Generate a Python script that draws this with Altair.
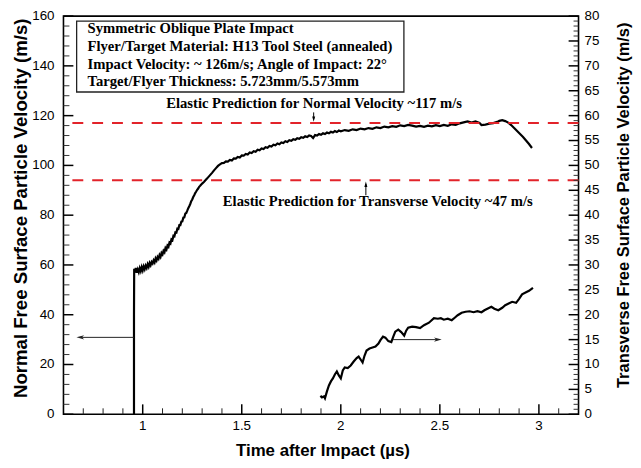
import altair as alt
import pandas as pd

# ---------------- data ----------------
normal_time = [0.956, 0.956, 0.957, 0.960, 0.965, 0.970, 0.975, 0.980, 0.985, 0.990, 0.995,
               1.000, 1.005, 1.010, 1.015, 1.020, 1.025, 1.030, 1.035, 1.040, 1.045,
               1.050, 1.055, 1.060, 1.065, 1.070, 1.075, 1.080, 1.085, 1.090, 1.095,
               1.100, 1.105, 1.110, 1.115, 1.120, 1.125, 1.130, 1.135, 1.140, 1.145,
               1.150, 1.155, 1.160, 1.165, 1.170, 1.175, 1.180, 1.185, 1.190, 1.195,
               1.200, 1.205, 1.210, 1.215, 1.220, 1.225, 1.230, 1.235, 1.240, 1.245,
               1.250, 1.255, 1.260, 1.265, 1.270, 1.275, 1.280, 1.285, 1.290, 1.300,
               1.310, 1.320, 1.330, 1.340, 1.350, 1.360, 1.370, 1.380, 1.390, 1.400,
               1.410, 1.420, 1.430, 1.440, 1.450, 1.460, 1.470, 1.480, 1.490, 1.500,
               1.510, 1.520, 1.530, 1.540, 1.550, 1.560, 1.570, 1.580, 1.590, 1.600,
               1.610, 1.620, 1.630, 1.640, 1.650, 1.660, 1.670, 1.680, 1.690, 1.700,
               1.710, 1.720, 1.730, 1.740, 1.750, 1.760, 1.770, 1.780, 1.790, 1.800,
               1.810, 1.820, 1.830, 1.840, 1.850, 1.860, 1.870, 1.880, 1.890, 1.900,
               1.910, 1.920, 1.930, 1.940, 1.950, 1.960, 1.970, 1.980, 1.990, 2.000,
               2.020, 2.040, 2.060, 2.080, 2.100, 2.120, 2.140, 2.160, 2.180, 2.200,
               2.220, 2.240, 2.260, 2.280, 2.300, 2.320, 2.340, 2.360, 2.380, 2.400,
               2.420, 2.440, 2.460, 2.480, 2.500, 2.520, 2.540, 2.560, 2.580, 2.600,
               2.620, 2.640, 2.660, 2.680, 2.700, 2.710, 2.730, 2.750, 2.770, 2.790,
               2.800, 2.815, 2.830, 2.845, 2.860, 2.875, 2.890, 2.905, 2.920, 2.935,
               2.950, 2.965]
normal_vel = [0.0, 40.0, 58.5, 57.0, 58.8, 56.9, 58.2, 57.1, 58.7, 57.5, 59.1,
              57.8, 59.4, 58.3, 59.7, 58.8, 60.3, 59.3, 60.8, 59.9, 61.2,
              60.6, 61.8, 61.0, 62.6, 61.8, 63.2, 62.5, 64.0, 63.2, 64.8,
              64.2, 65.7, 65.1, 66.8, 66.2, 67.8, 67.3, 69.0, 68.6, 70.3,
              70.0, 71.7, 71.5, 73.1, 73.0, 74.6, 74.5, 76.0, 76.0, 77.4,
              77.5, 79.0, 79.1, 80.6, 80.9, 81.8, 82.8, 83.6, 84.5, 85.6,
              86.3, 87.3, 88.0, 88.9, 89.5, 90.2, 90.7, 91.4, 91.8, 92.7,
              93.4, 94.3, 95.2, 96.1, 97.0, 98.0, 98.9, 99.8, 100.4, 100.9,
              101.0, 101.6, 101.5, 102.2, 102.0, 102.8, 102.7, 103.4, 103.2, 104.0,
              103.9, 104.6, 104.4, 105.2, 105.0, 105.7, 105.5, 106.3, 106.1, 106.8,
              106.6, 107.3, 107.1, 107.8, 107.6, 108.3, 108.1, 108.8, 108.5, 109.2,
              109.0, 109.7, 109.4, 110.1, 109.9, 110.5, 110.3, 110.9, 110.7, 111.3,
              111.1, 111.7, 111.4, 112.0, 111.8, 111.0, 112.2, 112.0, 112.6, 112.3,
              112.9, 112.6, 113.2, 112.9, 113.5, 113.2, 113.8, 113.4, 114.0, 113.7,
              114.2, 113.9, 114.5, 114.2, 114.8, 114.5, 115.0, 114.7, 115.3, 115.0,
              115.6, 115.3, 115.8, 115.5, 116.1, 115.8, 116.3, 116.0, 115.6, 115.9,
              115.5, 116.0, 115.7, 116.2, 115.8, 116.3, 115.9, 116.5, 116.3, 116.9,
              117.3, 117.7, 117.2, 117.7, 117.1, 116.2, 116.4, 116.8, 117.0, 117.5,
              117.9, 118.2, 117.8, 117.2, 116.2, 115.0, 113.8, 112.6, 111.4, 110.0,
              108.6, 107.0]

trans_time = [1.897, 1.905, 1.915, 1.920, 1.930, 1.940, 1.950, 1.960, 1.970, 1.980,
              1.990, 2.000, 2.010, 2.020, 2.035, 2.050, 2.065, 2.080, 2.090, 2.100,
              2.110, 2.120, 2.130, 2.145, 2.160, 2.175, 2.190, 2.200, 2.213, 2.225,
              2.240, 2.255, 2.265, 2.275, 2.290, 2.305, 2.320, 2.330, 2.340, 2.360,
              2.380, 2.400, 2.420, 2.445, 2.470, 2.490, 2.505, 2.520, 2.540, 2.560,
              2.575, 2.590, 2.610, 2.630, 2.650, 2.670, 2.690, 2.710, 2.725, 2.740,
              2.760, 2.775, 2.795, 2.815, 2.830, 2.850, 2.865, 2.885, 2.900, 2.915,
              2.935, 2.950, 2.970]
trans_vel = [3.7, 3.4, 3.6, 3.2, 4.6, 5.8, 6.6, 7.2, 8.0, 8.6,
             7.8, 7.2, 8.8, 9.4, 9.3, 9.8, 10.6, 11.3, 11.6, 11.0,
             10.4, 11.8, 12.8, 13.2, 13.4, 13.6, 14.2, 14.9, 15.6, 15.4,
             14.7, 14.5, 15.6, 16.6, 17.0, 16.5, 15.8, 16.8, 17.4, 17.6,
             17.5, 17.3, 17.9, 18.4, 19.3, 19.2, 19.3, 19.0, 19.2, 18.9,
             19.4, 19.9, 20.4, 20.6, 20.7, 20.5, 20.7, 20.5, 20.9, 21.2,
             21.6, 21.2, 20.9, 21.4, 21.9, 22.3, 22.6, 22.4, 23.2, 24.1,
             24.5, 24.8, 25.4]

normal_prediction = 117   # m/s, left axis
transverse_prediction = 47  # m/s, right axis

x_major_ticks = [1, 1.5, 2, 2.5, 3]
x_tick_labels = ["1", "1.5", "2", "2.5", "3"]
x_minor_ticks = [0.7, 0.8, 0.9, 1.1, 1.2, 1.3, 1.4, 1.6, 1.7, 1.8, 1.9, 2.1, 2.2,
                 2.3, 2.4, 2.6, 2.7, 2.8, 2.9, 3.1]
left_major_ticks = [0, 20, 40, 60, 80, 100, 120, 140, 160]
left_minor_ticks = [4, 8, 12, 16, 24, 28, 32, 36, 44, 48, 52, 56, 64, 68, 72, 76, 84, 88,
                    92, 96, 104, 108, 112, 116, 124, 128, 132, 136, 144, 148, 152, 156]
right_major_ticks = [0, 5, 10, 15, 20, 25, 30, 35, 40, 45, 50, 55, 60, 65, 70, 75, 80]
right_minor_ticks = [v for v in range(1, 80) if v % 5 != 0]

x_title = "Time after Impact (µs)"
left_title = "Normal Free Surface Particle Velocity (m/s)"
right_title = "Transverse Free Surface Particle Velocity (m/s)"

box_lines = ["Symmetric Oblique Plate Impact",
             "Flyer/Target Material: H13 Tool Steel (annealed)",
             "Impact Velocity: ~ 126m/s; Angle of Impact: 22°",
             "Target/Flyer Thickness: 5.723mm/5.573mm"]
box_line_y = [154.8, 147.7, 140.5, 133.3]
box_text_x = 0.7215
box_x = [0.6665, 2.3185]
box_y = [129.5, 158.0]

normal_label = "Elastic Prediction for Normal Velocity ~117 m/s"
normal_label_pos = (1.865, 124.6)
normal_arrow = (1.863, 121.3, 118.6)       # x, y start, y end (left axis)
trans_label = "Elastic Prediction for Transverse Velocity ~47 m/s"
trans_label_pos = (2.1865, 42.6)            # right axis
trans_arrow = (2.1265, 44.0, 46.2)          # right axis

left_arrow = (0.955, 0.685, 30.9)           # x start, x end, y (left axis)
right_arrow = (2.263, 2.49, 15.0)           # x start, x end, y (right axis)

# ---------------- scales / styles ----------------
X_DOM = [0.6, 3.2]
YL_DOM = [0, 160]
YR_DOM = [0, 80]
xsc = alt.Scale(domain=X_DOM, nice=False, zero=False)
ylsc = alt.Scale(domain=YL_DOM, nice=False, zero=False)
yrsc = alt.Scale(domain=YR_DOM, nice=False, zero=False)

RED = "#e2232a"
SANS = "Liberation Sans"
SERIF = "Liberation Serif"
W, H = 520, 402
LBL = 13.5
MAJOR_PX, MINOR_PX, RMINOR_PX = 10, 6, 5
px_x = (X_DOM[1] - X_DOM[0]) / W      # x-units per pixel
px_yl = (YL_DOM[1] - YL_DOM[0]) / H   # left-y units per pixel


def XQ(f):
    return alt.X(f, type="quantitative", scale=xsc, axis=None)


def YL(f):
    return alt.Y(f, type="quantitative", scale=ylsc, axis=None)


def YR(f):
    return alt.Y(f, type="quantitative", scale=yrsc, axis=None)


def one(**cols):
    return pd.DataFrame({k: [v] for k, v in cols.items()})


# one small rule layer per tick (inward ticks)
def x_tick_layers(vals, length, width, color):
    return [alt.Chart(one(t=t, y0=YL_DOM[0], y1=YL_DOM[0] + length * px_yl)).mark_rule(
        color=color, strokeWidth=width).encode(x=XQ("t"), y=YL("y0"), y2="y1") for t in vals]


def left_tick_layers(vals, length, width, color):
    return [alt.Chart(one(v=v, x0=X_DOM[0], x1=X_DOM[0] + length * px_x)).mark_rule(
        color=color, strokeWidth=width).encode(y=YL("v"), x=XQ("x0"), x2="x1") for v in vals]


def right_tick_layers(vals, length, width, color):
    return [alt.Chart(one(v=v, x0=X_DOM[1], x1=X_DOM[1] - length * px_x)).mark_rule(
        color=color, strokeWidth=width).encode(y=YR("v"), x=XQ("x0"), x2="x1") for v in vals]


df_n = pd.DataFrame({"t": normal_time, "v": normal_vel, "i": range(len(normal_time))})
df_t = pd.DataFrame({"t": trans_time, "v": trans_vel, "i": range(len(trans_time))})

# ---------------- normal (left axis) group ----------------
line_n = alt.Chart(df_n).mark_line(color="black", strokeWidth=2.2).encode(
    x=XQ("t"), y=YL("v"), order=alt.Order("i:Q"))

xt_labels = alt.Chart(pd.DataFrame({"t": x_major_ticks, "s": x_tick_labels})).mark_text(
    align="center", baseline="top", font=SANS, fontSize=LBL, color="black").encode(
    x=XQ("t"), y=alt.value(H + 5), text="s:N")
yl_labels = alt.Chart(pd.DataFrame({"v": left_major_ticks})).mark_text(
    align="right", baseline="middle", font=SANS, fontSize=LBL, color="black").encode(
    y=YL("v"), x=alt.value(-9), text=alt.Text("v:Q", format="d"))

titles_left = alt.Chart(one(s=left_title)).mark_text(
    align="center", baseline="middle", angle=270, font=SANS, fontSize=18.8,
    fontWeight="bold", color="black").encode(x=alt.value(-43), y=alt.value(194), text="s:N")
title_x = alt.Chart(one(s=x_title)).mark_text(
    align="center", baseline="middle", font=SANS, fontSize=17,
    fontWeight="bold", color="black").encode(x=alt.value(262), y=alt.value(H + 37), text="s:N")

red_n = alt.Chart(one(v=normal_prediction)).mark_rule(
    color=RED, strokeWidth=2, strokeDash=[11, 9]).encode(y=YL("v"))

box = alt.Chart(one(x=box_x[0], x2=box_x[1], y=box_y[0], y2=box_y[1])).mark_rect(
    fill="white", stroke="#222", strokeWidth=1.3).encode(
    x=XQ("x"), x2="x2", y=YL("y"), y2="y2")
box_text = alt.Chart(pd.DataFrame({"x": [box_text_x] * len(box_lines), "y": box_line_y,
                                   "s": box_lines})).mark_text(
    align="left", baseline="middle", font=SERIF, fontWeight="bold", fontSize=14.8,
    color="black").encode(x=XQ("x"), y=YL("y"), text="s:N")

n_label = alt.Chart(one(x=normal_label_pos[0], y=normal_label_pos[1], s=normal_label)).mark_text(
    align="center", baseline="middle", font=SERIF, fontWeight="bold", fontSize=14.8,
    color="black").encode(x=XQ("x"), y=YL("y"), text="s:N")
n_arrow = alt.Chart(one(x=normal_arrow[0], y=normal_arrow[1], y2=normal_arrow[2])).mark_rule(
    color="black", strokeWidth=1).encode(x=XQ("x"), y=YL("y"), y2="y2")
n_head = alt.Chart(one(x=normal_arrow[0], y=normal_arrow[2])).mark_point(
    shape="M-0.55,-1L0.55,-1L0,1Z", filled=True, size=30, color="black", opacity=1).encode(
    x=XQ("x"), y=YL("y"))

la_line = alt.Chart(one(x=left_arrow[0], x2=left_arrow[1], y=left_arrow[2])).mark_rule(
    color="#222", strokeWidth=1).encode(x=XQ("x"), x2="x2", y=YL("y"))
la_head = alt.Chart(one(x=left_arrow[1], y=left_arrow[2])).mark_point(
    shape="M-1,0L1,-0.55L0.45,0L1,0.55Z", filled=True, size=60, color="#222", opacity=1).encode(
    x=XQ("x"), y=YL("y"))

left_layers = [line_n, red_n, xt_labels, yl_labels, titles_left, title_x, box, box_text,
               n_label, n_arrow, n_head, la_line, la_head]
left_layers += x_tick_layers(x_minor_ticks, MINOR_PX, 1, "#222")
left_layers += x_tick_layers(x_major_ticks, MAJOR_PX, 1.5, "black")
left_layers += left_tick_layers(left_minor_ticks, MINOR_PX, 1, "#333")
left_layers += left_tick_layers(left_major_ticks, MAJOR_PX, 1.5, "black")
left_group = alt.layer(*left_layers)

# ---------------- transverse (right axis) group ----------------
line_t = alt.Chart(df_t).mark_line(color="black", strokeWidth=2.2).encode(
    x=XQ("t"), y=YR("v"), order=alt.Order("i:Q"))
yr_labels = alt.Chart(pd.DataFrame({"v": right_major_ticks})).mark_text(
    align="left", baseline="middle", font=SANS, fontSize=LBL, color="black").encode(
    y=YR("v"), x=alt.value(W + 6), text=alt.Text("v:Q", format="d"))
title_right = alt.Chart(one(s=right_title)).mark_text(
    align="center", baseline="middle", angle=270, font=SANS, fontSize=16.6,
    fontWeight="bold", color="black").encode(x=alt.value(W + 46), y=alt.value(191), text="s:N")
red_t = alt.Chart(one(v=transverse_prediction)).mark_rule(
    color=RED, strokeWidth=2, strokeDash=[11, 9]).encode(y=YR("v"))
t_label = alt.Chart(one(x=trans_label_pos[0], y=trans_label_pos[1], s=trans_label)).mark_text(
    align="center", baseline="middle", font=SERIF, fontWeight="bold", fontSize=14.8,
    color="black").encode(x=XQ("x"), y=YR("y"), text="s:N")
t_arrow = alt.Chart(one(x=trans_arrow[0], y=trans_arrow[1], y2=trans_arrow[2])).mark_rule(
    color="black", strokeWidth=1).encode(x=XQ("x"), y=YR("y"), y2="y2")
t_head = alt.Chart(one(x=trans_arrow[0], y=trans_arrow[2])).mark_point(
    shape="M-0.55,1L0.55,1L0,-1Z", filled=True, size=30, color="black", opacity=1).encode(
    x=XQ("x"), y=YR("y"))
ra_line = alt.Chart(one(x=right_arrow[0], x2=right_arrow[1], y=right_arrow[2])).mark_rule(
    color="#222", strokeWidth=1).encode(x=XQ("x"), x2="x2", y=YR("y"))
ra_head = alt.Chart(one(x=right_arrow[1], y=right_arrow[2])).mark_point(
    shape="M1,0L-1,-0.55L-0.45,0L-1,0.55Z", filled=True, size=60, color="#222", opacity=1).encode(
    x=XQ("x"), y=YR("y"))

right_layers = [line_t, red_t, yr_labels, title_right, t_label, t_arrow, t_head,
                ra_line, ra_head]
right_layers += right_tick_layers(right_minor_ticks, RMINOR_PX, 1, "#333")
right_layers += right_tick_layers(right_major_ticks, MAJOR_PX, 1.5, "black")
right_group = alt.layer(*right_layers)

chart = alt.layer(left_group, right_group).resolve_scale(y="independent").properties(
    width=W, height=H,
    padding={"left": 56, "top": 6, "right": 55, "bottom": 44},
    autosize=alt.AutoSizeParams(type="none"),
    background="white",
).configure_view(stroke="black", strokeWidth=1.6)

chart.save("out.html", embed_options={"renderer": "svg", "actions": False})
